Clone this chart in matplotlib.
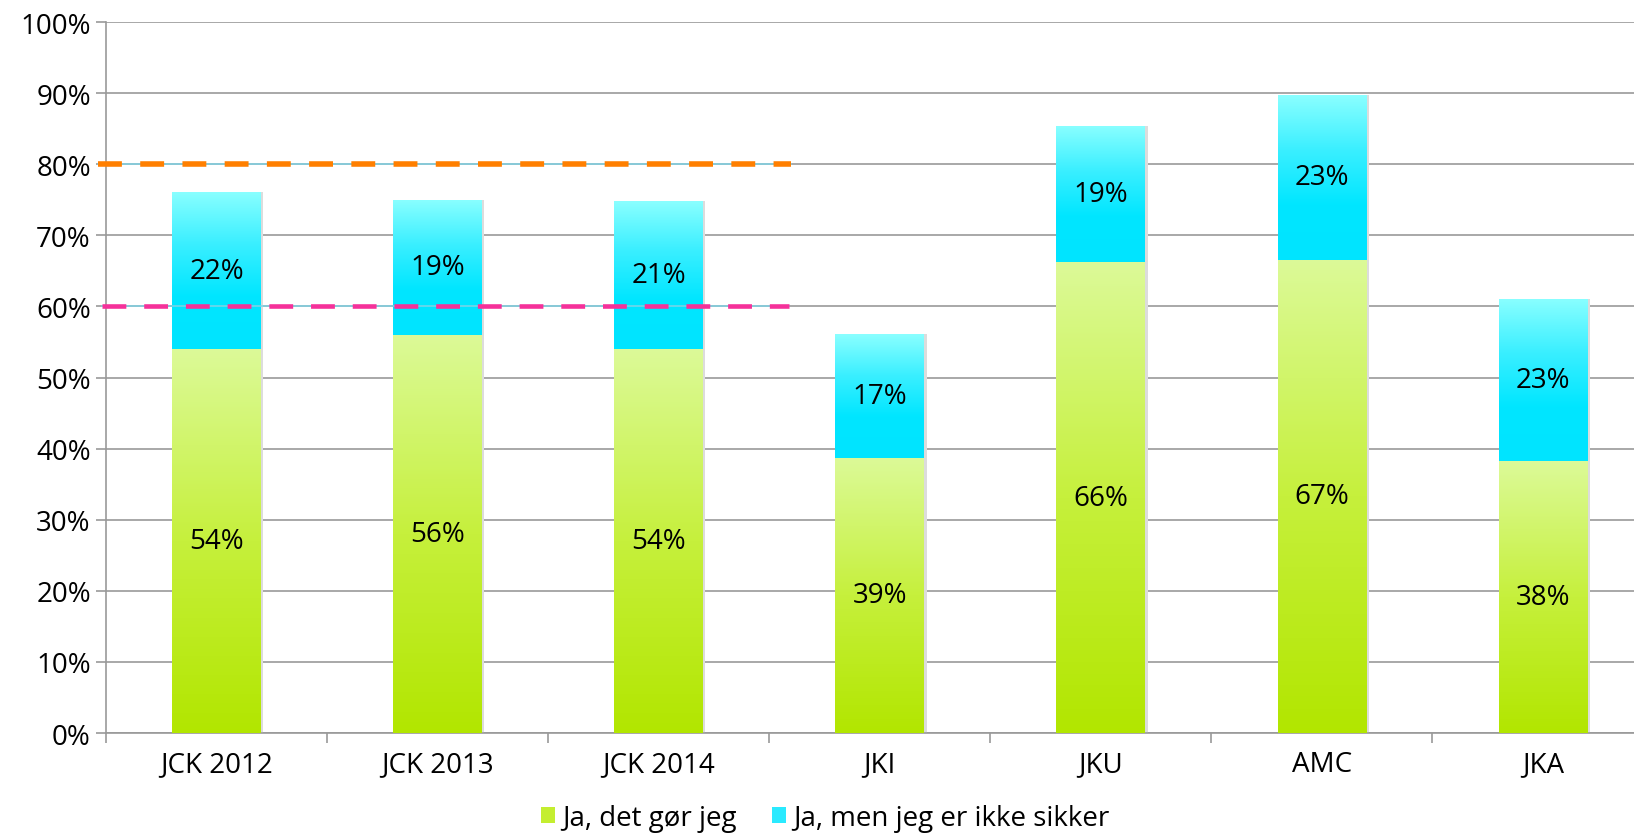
import numpy as np
import matplotlib
matplotlib.use('Agg')
import matplotlib.pyplot as plt
from matplotlib.colors import LinearSegmentedColormap

plt.rcParams['font.family'] = ['Open Sans', 'DejaVu Sans']

# data
categories = ['JCK 2012', 'JCK 2013', 'JCK 2014', 'JKI', 'JKU', 'AMC', 'JKA']
sure = [54.0, 56.0, 54.0, 38.7, 66.2, 66.6, 38.2]
unsure = [22.1, 19.0, 20.8, 17.4, 19.2, 23.2, 22.9]
series_names = ['Ja, det gør jeg', 'Ja, men jeg er ikke sikker']
target_high = 80
target_low = 60

fs = 20

fig = plt.figure(figsize=(16.34, 8.37), dpi=100)
ax = fig.add_axes([0.0649, 0.123, 0.9469, 0.8495])

x = np.arange(len(categories))
w = 0.40

green_cmap = LinearSegmentedColormap.from_list('g', ['#b2e600', '#c6f03c', '#dcfa98'])
cyan_cmap = LinearSegmentedColormap.from_list('c', ['#00e4ff', '#00e6ff', '#3aefff', '#8affff'])

bars1 = ax.bar(x, sure, w, color='#c4ee30', zorder=3, label=series_names[0])
bars2 = ax.bar(x, unsure, w, bottom=sure, color='#2aeaff', zorder=3, label=series_names[1])

grad = np.linspace(0, 1, 256).reshape(-1, 1)
for bars, cmap in [(bars1, green_cmap), (bars2, cyan_cmap)]:
    for b in bars:
        x0, y0 = b.get_x(), b.get_y()
        bw, bh = b.get_width(), b.get_height()
        im = ax.imshow(grad, cmap=cmap, origin='lower', aspect='auto',
                       extent=[x0, x0 + bw, y0, y0 + bh], zorder=4)
        im.set_clip_path(b)
        # faint shadow
        ax.bar(x0 + bw / 2 + 0.012, bh, bw, bottom=y0, color='#dcdcdc', zorder=2.5)

# labels
for i in range(len(categories)):
    ax.text(x[i], sure[i] / 2, f'{round(sure[i])}%', ha='center', va='center',
            fontsize=fs, zorder=6)
    ax.text(x[i], sure[i] + unsure[i] / 2, f'{round(unsure[i])}%', ha='center',
            va='center', fontsize=fs, zorder=6)

# target lines
ax.plot([-0.535, 2.6], [target_high] * 2, color='#7fd3e6', lw=1.1, zorder=5, clip_on=False)
ax.plot([-0.535, 2.6], [target_high] * 2, color='#ff7f00', lw=4, zorder=5,
        dashes=(4.3, 3.3), clip_on=False)
ax.plot([-0.52, 2.59], [target_low] * 2, color='#f5319a', lw=0, zorder=5, clip_on=False)
ax.plot([-0.52, 2.59], [target_low] * 2, color='#7fd3e6', lw=1.1, zorder=5, clip_on=False)
ax.plot([-0.52, 2.59], [target_low] * 2, color='#f5319a', lw=3.3, zorder=5,
        dashes=(5.2, 3.9), clip_on=False)

ax.set_xlim(-0.5, len(categories) - 0.5)
ax.set_ylim(0, 100)
ax.set_yticks(range(0, 101, 10))
ax.set_yticklabels([f'{v}%' for v in range(0, 101, 10)], fontsize=fs)
ax.set_xticks(x)
ax.set_xticklabels(categories, fontsize=fs)
ax.set_xticks(np.arange(-0.5, len(categories)), minor=True)
ax.tick_params(axis='x', which='major', length=0, pad=12)
ax.tick_params(axis='x', which='minor', length=7, color='#999999', width=1.2)
ax.tick_params(axis='y', length=7, color='#999999', width=1.2, pad=4)

ax.grid(axis='y', color='#9a9a9a', lw=1.2, zorder=1)
for s in ['top', 'right']:
    ax.spines[s].set_visible(False)
for s in ['left', 'bottom']:
    ax.spines[s].set_color('#999999')
    ax.spines[s].set_linewidth(1.2)

fig.legend(handles=[bars1, bars2], labels=series_names, loc='center',
           bbox_to_anchor=(0.505, 0.022), ncol=2, frameon=False, fontsize=fs,
           handlelength=0.5, handleheight=0.5, handletextpad=0.25, columnspacing=1.3)

fig.savefig('out.png', dpi=100)
